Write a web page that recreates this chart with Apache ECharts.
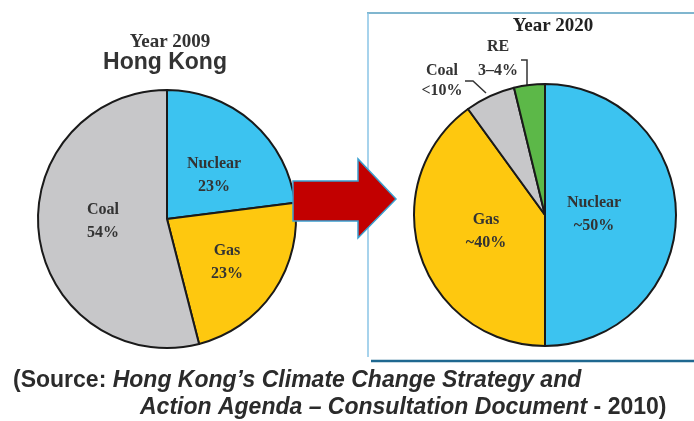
<!DOCTYPE html>
<html>
<head>
<meta charset="utf-8">
<script src="https://cdn.jsdelivr.net/npm/echarts@6/dist/echarts.min.js"></script>
<style>
html,body{margin:0;padding:0;background:#fff;}
#main{width:694px;height:421px;}
</style>
</head>
<body>
<div id="main"></div>
<script>
// ---- data ----
const categories2009 = ['Nuclear', 'Gas', 'Coal'];
const values2009 = [23, 23, 54];
const pctLabels2009 = ['23%', '23%', '54%'];

const categories2020 = ['Nuclear', 'Gas', 'Coal', 'RE'];
const values2020 = [50, 40, 6.2, 3.8];
const pctLabels2020 = ['~50%', '~40%', '<10%', '3\u20134%'];

const colorMap = { Nuclear: '#3cc3f0', Gas: '#fec80f', Coal: '#c7c7c9', RE: '#5cb848' };

// ---- layout / styles ----
const serif = '"Liberation Serif", "Times New Roman", serif';
const sans = '"Liberation Sans", Arial, sans-serif';

const pos2009 = [[214, 175], [227, 262], [103, 221]];
const pos2020 = [[594, 214], [486, 231], [442, 81], [498, 59]];
const lines2020 = [null, null, [[465, 81], [473, 81], [486, 93]], [[521, 60], [527, 60], [527, 85]]];

function buildData(cats, vals, outsideIdx, lh) {
  return cats.map((c, i) => {
    const d = { name: c, value: vals[i], itemStyle: { color: colorMap[c] } };
    if (outsideIdx && outsideIdx.indexOf(i) >= 0) {
      d.label = { position: 'outside', lineHeight: lh[i] };
      d.labelLine = { show: true, lineStyle: { color: '#333', width: 1.5 } };
    }
    return d;
  });
}

const baseLabel = {
  show: true,
  position: 'inside',
  fontFamily: serif,
  fontWeight: 'bold',
  fontSize: 16,
  lineHeight: 23,
  color: '#333'
};

const chart = echarts.init(document.getElementById('main'), null, { renderer: 'canvas' });

chart.setOption({
  animation: false,
  backgroundColor: '#fff',
  title: [
    { text: 'Year 2009', left: 165, top: 28, textAlign: 'center',
      textStyle: { fontFamily: serif, fontWeight: 'bold', fontSize: 19, color: '#333' } },
    { text: 'Hong Kong', left: 160, top: 46, textAlign: 'center',
      textStyle: { fontFamily: sans, fontWeight: 'bold', fontSize: 23, color: '#333' } },
    { text: 'Year 2020', left: 548, top: 12, textAlign: 'center',
      textStyle: { fontFamily: serif, fontWeight: 'bold', fontSize: 19, color: '#222' } }
  ],
  series: [
    {
      type: 'pie',
      center: [167, 219],
      radius: 129,
      startAngle: 90,
      clockwise: true,
      silent: true,
      itemStyle: { borderColor: '#1a1a1a', borderWidth: 2 },
      label: Object.assign({}, baseLabel, {
        formatter: p => p.name + '\n' + pctLabels2009[p.dataIndex]
      }),
      labelLine: { show: false },
      labelLayout: p => ({ x: pos2009[p.dataIndex][0], y: pos2009[p.dataIndex][1], align: 'center', verticalAlign: 'middle' }),
      data: buildData(categories2009, values2009)
    },
    {
      type: 'pie',
      center: [545, 215],
      radius: 131,
      startAngle: 90,
      clockwise: true,
      silent: true,
      itemStyle: { borderColor: '#1a1a1a', borderWidth: 2 },
      label: Object.assign({}, baseLabel, {
        formatter: p => p.name + '\n' + pctLabels2020[p.dataIndex]
      }),
      labelLine: { show: false },
      labelLayout: p => {
        const o = { x: pos2020[p.dataIndex][0], y: pos2020[p.dataIndex][1], align: 'center', verticalAlign: 'middle' };
        if (lines2020[p.dataIndex]) o.labelLinePoints = lines2020[p.dataIndex];
        return o;
      },
      data: buildData(categories2020, values2020, [2, 3], [null, null, 20, 24])
    }
  ],
  graphic: [
    // box around 2020 pie
    { type: 'line', z: 1, shape: { x1: 367, y1: 13, x2: 694, y2: 13 }, style: { stroke: '#80b6cf', lineWidth: 2 } },
    { type: 'line', z: 1, shape: { x1: 368, y1: 13, x2: 368, y2: 357 }, style: { stroke: '#8ac5e6', lineWidth: 1.5 } },
    { type: 'line', z: 1, shape: { x1: 371, y1: 361, x2: 694, y2: 361 }, style: { stroke: '#1f6890', lineWidth: 2.5 } },
    // arrow
    { type: 'polygon', z: 100,
      shape: { points: [[293, 181], [358, 181], [358, 159], [396, 199], [358, 238], [358, 221], [293, 221]] },
      style: { fill: '#c20000', stroke: '#3a9fcf', lineWidth: 1.5 } },
    // source text
    { type: 'text', z: 100, left: 13, top: 369,
      style: {
        text: '{n|(Source: }{i|Hong Kong\u2019s Climate Change Strategy and}',
        rich: {
          n: { fontFamily: sans, fontWeight: 'bold', fontSize: 23, fill: '#2b2b2b' },
          i: { fontFamily: sans, fontWeight: 'bold', fontStyle: 'italic', fontSize: 23, fill: '#2b2b2b' }
        }
      } },
    { type: 'text', z: 100, left: 140, top: 396,
      style: {
        text: '{i|Action Agenda \u2013 Consultation Document}{n| - 2010)}',
        rich: {
          n: { fontFamily: sans, fontWeight: 'bold', fontSize: 23, fill: '#2b2b2b' },
          i: { fontFamily: sans, fontWeight: 'bold', fontStyle: 'italic', fontSize: 23, fill: '#2b2b2b' }
        }
      } }
  ]
});
</script>
</body>
</html>
